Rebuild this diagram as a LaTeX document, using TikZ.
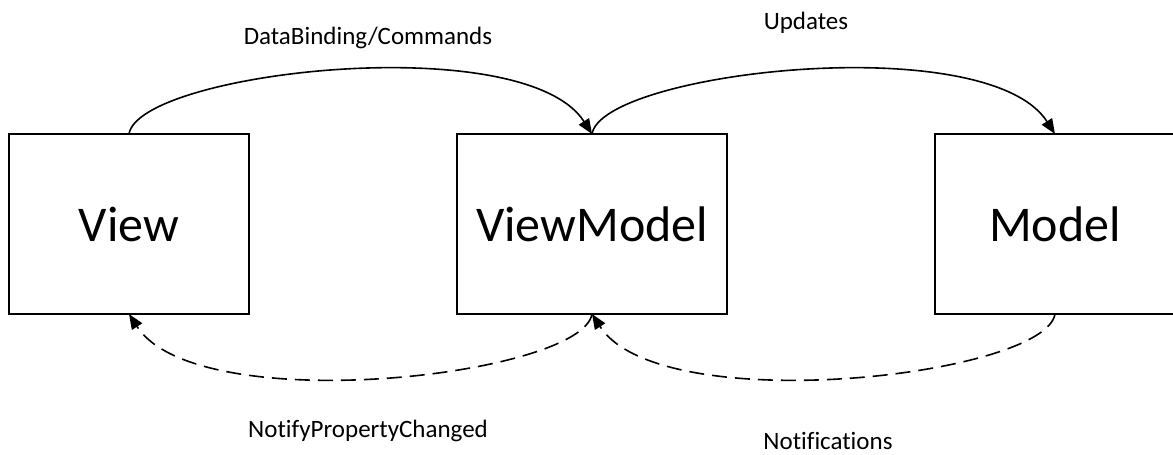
\documentclass[tikz,border=0pt]{standalone}
\usepackage{fontspec}
\setmainfont[Ligatures=NoCommon]{Carlito}
\usetikzlibrary{arrows.meta}
\begin{document}
\begin{tikzpicture}[x=1pt,y=-1pt,
  block/.style={draw=black,line width=1.6pt,minimum width=240pt,minimum height=180pt,
    inner sep=0pt,outer sep=0pt,font=\fontsize{50}{60}\selectfont},
  lbl/.style={anchor=base,inner sep=0pt,font=\fontsize{25}{30}\selectfont},
  link/.style={line width=1.6pt,-{Triangle[length=15pt,width=12pt]}},
  back/.style={link,dash pattern=on 15pt off 8pt}]
\useasboundingbox (0,0) rectangle (1173,455);
\clip (0,0) rectangle (1173,455);

% the three layers
\node[block] (view) at (129,224) {View};
\node[block,minimum width=270pt] (vm) at (592,224) {ViewModel};
\node[block] (model) at (1055,224) {Model};

% forward flow over the top
\draw[link] (view.north) .. controls +(10,-62) and +(-68,-106) .. (vm.north);
\draw[link] (vm.north) .. controls +(10,-62) and +(-68,-106) .. (model.north);

% change notifications along the bottom
\draw[back] (model.south) .. controls +(-10,62) and +(68,106) .. (vm.south);
\draw[back] (vm.south) .. controls +(-10,62) and +(68,106) .. (view.south);

% labels
\node[lbl] (l1) at (368,44) {DataBinding/Commands};
\node[lbl] (l2) at (806,29) {Updates};
\node[lbl] (l3) at (368,437) {NotifyPropertyChanged};
\node[lbl] (l4) at (828,449) {Notifications};
\end{tikzpicture}
\end{document}
